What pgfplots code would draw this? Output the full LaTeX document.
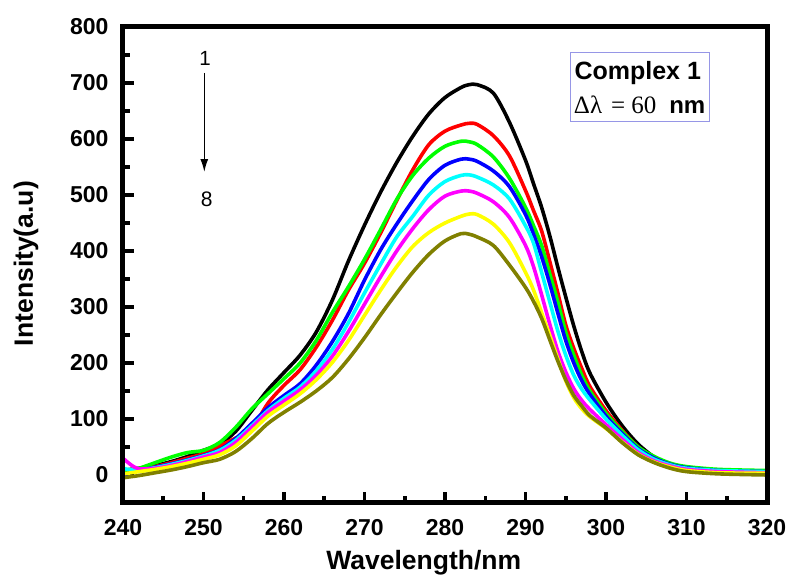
\documentclass[border=0pt]{standalone}
\usepackage{fontspec}
\setmainfont{Liberation Sans}
\newfontfamily\seriffont{Liberation Serif}
\usepackage{pgfplots}
\pgfplotsset{compat=1.18}
\usepackage{pgfplotstable}
\usetikzlibrary{arrows.meta}
\definecolor{olivec}{RGB}{128,128,0}
\definecolor{boxc}{RGB}{150,150,230}
\definecolor{redc}{RGB}{255,0,0}
\definecolor{greenc}{RGB}{0,255,0}
\definecolor{bluec}{RGB}{0,0,255}
\definecolor{cyanc}{RGB}{0,255,255}
\definecolor{magentac}{RGB}{255,0,255}
\definecolor{yellowc}{RGB}{255,255,0}
\pgfplotsset{
  every axis/.append style={line width=5pt},
  every tick/.append style={line width=3.5pt, black},
}

\pgfplotstableread{
x k r g b c m y o
240 8 5 8 -3 12 30 2 -5
241 10 8 10 5 9 18 4 -3
242 12 10 12 8 9 11 6 -1
244 17 15 22 14 13 12 10 4
246 24 22 32 20 19 17 15 9
248 33 30 40 27 26 24 21 15
250 44 38 44 35 34 32 28 22
252 55 52 58 45 44 40 36 28
254 78 66 85 65 62 58 52 42
256 115 82 118 92 88 85 78 65
258 152 128 145 120 115 112 105 92
260 183 160 172 142 137 132 125 112
262 214 188 200 163 157 152 145 130
264 255 228 240 196 186 178 170 150
266 312 276 290 238 224 212 201 174
268 382 330 336 288 272 256 240 207
270 446 378 385 348 325 305 285 245
272 505 432 438 402 376 354 330 286
274 558 490 492 448 425 400 372 325
276 605 545 535 490 462 440 408 362
278 645 590 566 528 500 474 433 394
280 674 614 587 553 524 498 450 418
282 692 625 596 564 535 507 462 431
283 697 628 595 564 536 507 466 430
284 697 626 590 560 532 503 465 425
286 682 606 568 543 518 488 448 410
288 630 570 530 515 493 460 415 375
290 562 508 478 465 445 410 362 335
291 520 472 445 430 414 372 330 310
292 478 436 410 390 362 322 290 280
293 428 382 360 342 310 270 250 242
294 372 326 310 290 258 222 208 204
295 318 268 255 240 214 184 168 170
296 266 226 214 200 178 154 138 142
297 220 190 178 168 153 133 118 123
298 182 158 150 144 134 117 104 106
300 130 115 110 105 100 90 83 84
302 88 80 78 74 71 64 59 58
304 55 50 50 47 45 40 37 36
306 32 31 33 30 28 25 23 22
308 19 19 21 19 18 16 14 12
310 13 13 15 13 12 10 8 6
314 8 8 10 8 8 6 4 2
320 5 5 8 6 6 4 3 0
}\data

\begin{document}
\begin{tikzpicture}
\begin{axis}[
  scale only axis, width=644pt, height=476pt,
  xmin=240, xmax=320, ymin=-50, ymax=800,
  xtick={240,250,...,320}, ytick={0,100,...,800},
  minor xtick={245,255,...,315}, minor ytick={50,150,...,750},
  tick pos=left, tick align=inside,
  major tick length=11pt, minor tick length=7pt,
  major tick style={line width=3.5pt, black},
  minor tick style={line width=3.5pt, black},
  ticklabel style={font=\fontsize{23}{27}\selectfont\bfseries, inner sep=0pt},
  /pgf/number format/assume math mode=true,
  yticklabel style={xshift=-12pt},
  xticklabel style={yshift=-14pt},
  xlabel={Wavelength/nm}, ylabel={Intensity(a.u)},
  label style={font=\fontsize{26.5}{30}\selectfont\bfseries},
  xlabel style={at={(axis description cs:0.467,-0.1387)}, anchor=base},
  ylabel style={at={(axis description cs:-0.140,0.503)}, anchor=base},
]
\addplot[black, line width=3.6pt, smooth] table[x=x,y=k]{\data};
\addplot[redc, line width=3.6pt, smooth] table[x=x,y=r]{\data};
\addplot[greenc, line width=3.6pt, smooth] table[x=x,y=g]{\data};
\addplot[bluec, line width=3.6pt, smooth] table[x=x,y=b]{\data};
\addplot[cyanc, line width=3.6pt, smooth] table[x=x,y=c]{\data};
\addplot[magentac, line width=3.6pt, smooth] table[x=x,y=m]{\data};
\addplot[yellowc, line width=3.6pt, smooth] table[x=x,y=y]{\data};
\addplot[olivec, line width=3.6pt, smooth] table[x=x,y=o]{\data};

\node[font=\fontsize{20.5}{22}\selectfont] at (axis cs:250.2,744) {1};
\draw[line width=1.5pt, -{Latex[length=13pt,width=8pt]}] (axis cs:250.1,718) -- (axis cs:250.1,541);
\node[font=\fontsize{21}{23}\selectfont] at (axis cs:250.4,493) {8};

\draw[boxc, line width=1pt] (axis cs:295.53,753.6) rectangle (axis cs:312.8,632.1);
\node[anchor=base west, inner sep=0pt, font=\fontsize{25}{30}\selectfont\bfseries] at (axis cs:295.78,706.6) {Complex 1};
\node[anchor=base west, inner sep=0pt] at (axis cs:295.71,645.9) {{\seriffont\fontsize{25}{30}\selectfont Δλ\hspace{9pt}=\hspace{6pt}60}\hspace{13pt}{\fontsize{24}{28}\selectfont\bfseries nm}};

\coordinate (sw) at (rel axis cs:0,0);
\coordinate (ne) at (rel axis cs:1,1);
\end{axis}
\draw[line width=4.5pt, black, line join=miter] (sw) rectangle (ne);
\pgfresetboundingbox
\path[use as bounding box] ([shift={(-123pt,-76pt)}]sw) rectangle ([shift={(25pt,27pt)}]ne);
\end{tikzpicture}
\end{document}
